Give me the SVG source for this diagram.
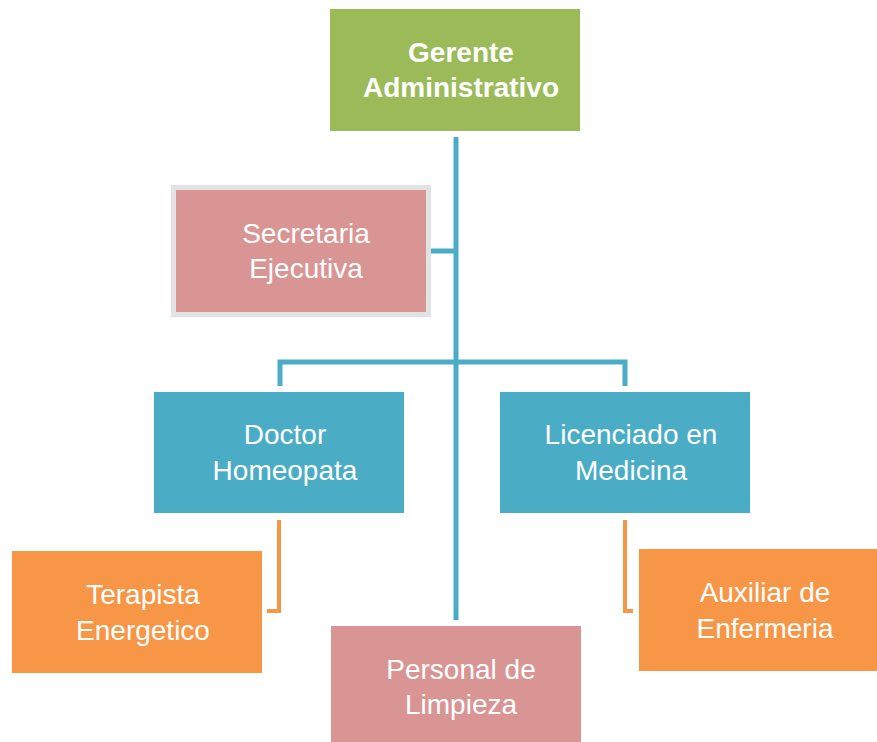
<svg xmlns="http://www.w3.org/2000/svg" width="877" height="742" viewBox="0 0 877 742">
<style>
text{font-family:"Liberation Sans",Arial,sans-serif;font-size:28px;fill:#FFFFFF;text-anchor:middle}
.b{font-weight:bold}
.green{fill:#9BBB59}
.pink{fill:#D99594}
.blue{fill:#4BACC6}
.orange{fill:#F79646}
.cb{fill:none;stroke:#4BACC6;stroke-width:5}
.co{fill:none;stroke:#F79646;stroke-width:4}
</style>
<rect width="877" height="742" fill="#FFFFFF"/>
<g id="connectors">
<path class="cb" d="M456,137 V620"/>
<path class="cb" d="M431,251 H456"/>
<path class="cb" d="M280,386 V362 H625 V386"/>
<path class="co" d="M279,520 V611 H267"/>
<path class="co" d="M625,520 V611 H633"/>
</g>
<g id="gerente">
<rect class="green" x="330" y="9" width="250" height="122"/>
<text class="b" x="461" y="62">Gerente</text>
<text class="b" x="461" y="97">Administrativo</text>
</g>
<g id="secretaria">
<rect x="171" y="185" width="260" height="132" fill="#E2E2E2"/>
<rect class="pink" x="176" y="190" width="250" height="122"/>
<text x="306" y="243">Secretaria</text>
<text x="306" y="278">Ejecutiva</text>
</g>
<g id="doctor">
<rect class="blue" x="154" y="392" width="250" height="121"/>
<text x="285" y="444">Doctor</text>
<text x="285" y="480">Homeopata</text>
</g>
<g id="licenciado">
<rect class="blue" x="500" y="392" width="250" height="121"/>
<text x="631" y="444">Licenciado en</text>
<text x="631" y="480">Medicina</text>
</g>
<g id="terapista">
<rect class="orange" x="12" y="551" width="250" height="122"/>
<text x="143" y="604">Terapista</text>
<text x="143" y="640">Energetico</text>
</g>
<g id="auxiliar">
<rect class="orange" x="639" y="549" width="238" height="122"/>
<text x="765" y="602">Auxiliar de</text>
<text x="765" y="638">Enfermeria</text>
</g>
<g id="personal">
<rect class="pink" x="331" y="626" width="250" height="120"/>
<text x="461" y="679">Personal de</text>
<text x="461" y="714">Limpieza</text>
</g>
</svg>
